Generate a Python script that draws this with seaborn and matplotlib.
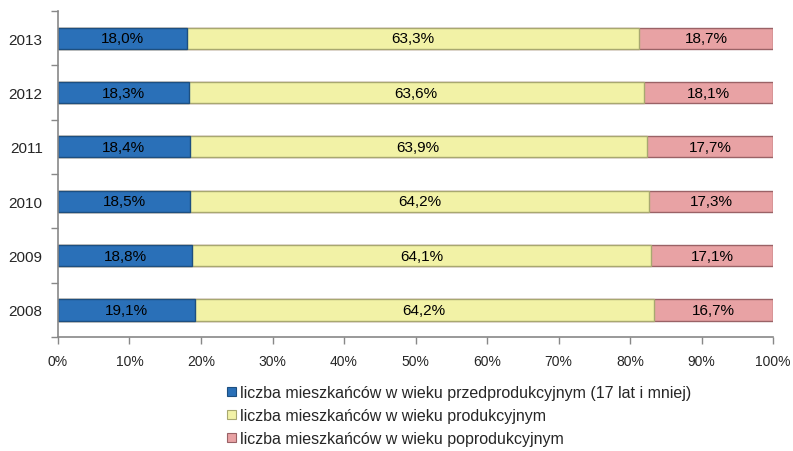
import matplotlib
matplotlib.use("Agg")
import matplotlib.pyplot as plt
import matplotlib.patches as mpatches
import numpy as np
import pandas as pd
import seaborn as sns

years = ["2013", "2012", "2011", "2010", "2009", "2008"]
przedprod = [18.0, 18.3, 18.4, 18.5, 18.8, 19.1]
prod = [63.3, 63.6, 63.9, 64.2, 64.1, 64.2]
poprod = [18.7, 18.1, 17.7, 17.3, 17.1, 16.7]

labels = [
    "liczba mieszkańców w wieku przedprodukcyjnym (17 lat i mniej)",
    "liczba mieszkańców w wieku produkcyjnym",
    "liczba mieszkańców w wieku poprodukcyjnym",
]
face = ["#2a70b8", "#f2f2a6", "#e8a2a4"]
edge = ["#1d4f80", "#a8a870", "#9a6266"]

sns.set_theme(style="white")
plt.rcParams["font.family"] = ["Liberation Sans", "DejaVu Sans"]

df = pd.DataFrame({"rok": years, "a": przedprod, "b": prod, "c": poprod})
df["cum_a"] = df["a"]
df["cum_b"] = df["a"] + df["b"]
df["cum_c"] = df["a"] + df["b"] + df["c"]

fig = plt.figure(figsize=(7.93, 4.52), dpi=100)
ax = fig.add_axes([0.0731, 0.252, 0.9019, 0.7215])

# stacked bars drawn back to front from cumulative totals
for col, fc, ec in [("cum_c", face[2], edge[2]), ("cum_b", face[1], edge[1]), ("cum_a", face[0], edge[0])]:
    sns.barplot(data=df, x=col, y="rok", order=years, color=fc, saturation=1,
                width=0.39, edgecolor=ec, linewidth=1.0, ax=ax, orient="h")

for i in range(len(years)):
    starts = [0, przedprod[i], przedprod[i] + prod[i]]
    for s, v in zip(starts, [przedprod[i], prod[i], poprod[i]]):
        ax.text(s + v / 2, i, f"{v:.1f}%".replace(".", ","), ha="center", va="center",
                fontsize=11, color="black")

ax.set_xlim(0, 100)
ax.set_ylim(5.5, -0.5)
ax.set_xlabel("")
ax.set_ylabel("")
ax.set_xticks(np.arange(0, 101, 10))
ax.set_xticklabels([f"{t}%" for t in range(0, 101, 10)], fontsize=10)
ax.tick_params(axis="y", which="major", length=0, labelsize=11, pad=11)
ax.set_yticks(np.arange(-0.5, 6, 1), minor=True)
ax.tick_params(axis="y", which="minor", length=5, color="#888888", width=1, direction="out", left=True)
ax.tick_params(axis="x", which="major", length=5, color="#888888", width=1, direction="out", bottom=True, pad=7)
for s in ["top", "right"]:
    ax.spines[s].set_visible(False)
for s in ["left", "bottom"]:
    ax.spines[s].set_color("#888888")
    ax.spines[s].set_linewidth(1.2)
ax.grid(False)

handles = [mpatches.Patch(facecolor=f, edgecolor=e, linewidth=0.8) for f, e in zip(face, edge)]
fig.legend(handles, labels, loc="upper left", bbox_to_anchor=(0.286, 0.146), frameon=False,
           fontsize=11.5, handlelength=0.55, handleheight=0.55, handletextpad=0.25,
           labelspacing=0.5, borderaxespad=0, borderpad=0)

fig.savefig("out.png", dpi=100)
